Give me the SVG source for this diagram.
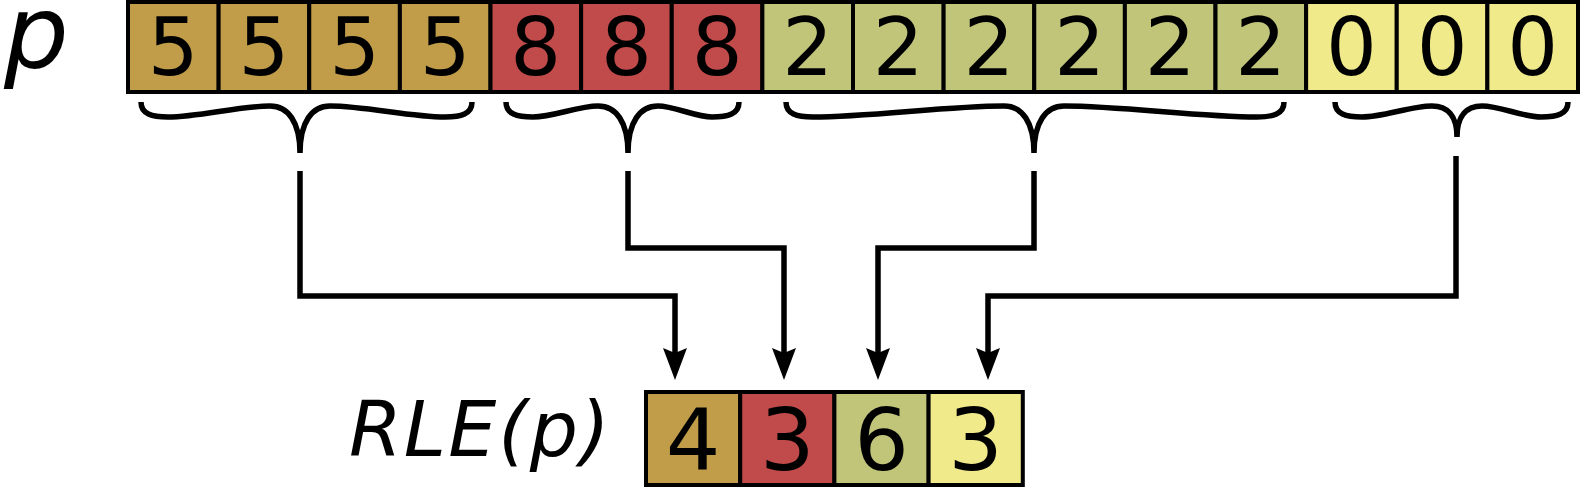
<svg xmlns="http://www.w3.org/2000/svg" width="1581" height="489" viewBox="0 0 1581 489">
<style>
.c{stroke:#000;stroke-width:4}
.b{fill:#c19d4a}.r{fill:#c14a4a}.g{fill:#c1c579}.y{fill:#f0ea8b}
.d{font-family:"DejaVu Sans",sans-serif;font-size:80px;text-anchor:middle;fill:#000}
.d2{font-family:"DejaVu Sans",sans-serif;font-size:86px;text-anchor:middle;fill:#000}
.lbl{font-family:"DejaVu Sans",sans-serif;font-style:italic;fill:#000}
.br{fill:none;stroke:#000;stroke-width:5.5}
.cn{fill:none;stroke:#000;stroke-width:5.5}
</style>
<defs>
<marker id="ah" markerUnits="userSpaceOnUse" viewBox="-5 -12 32 24" markerWidth="32" markerHeight="24" refX="0" refY="0" orient="auto" overflow="visible">
<path d="M0,0 L-5,-12 L27,0 L-5,12 Z" fill="#000"/>
</marker>
</defs>
<text id="label-p" class="lbl" x="4" y="68" font-size="102">p</text>
<g id="p-row">
<g id="p0"><rect class="c b" x="128" y="2" width="90.625" height="90"/><text class="d" x="173.3" y="75">5</text></g>
<g id="p1"><rect class="c b" x="218.625" y="2" width="90.625" height="90"/><text class="d" x="264" y="75">5</text></g>
<g id="p2"><rect class="c b" x="309.25" y="2" width="90.625" height="90"/><text class="d" x="354.6" y="75">5</text></g>
<g id="p3"><rect class="c b" x="399.875" y="2" width="90.625" height="90"/><text class="d" x="445.2" y="75">5</text></g>
<g id="p4"><rect class="c r" x="490.5" y="2" width="90.625" height="90"/><text class="d" x="535.8" y="75">8</text></g>
<g id="p5"><rect class="c r" x="581.125" y="2" width="90.625" height="90"/><text class="d" x="626.4" y="75">8</text></g>
<g id="p6"><rect class="c r" x="671.75" y="2" width="90.625" height="90"/><text class="d" x="717.1" y="75">8</text></g>
<g id="p7"><rect class="c g" x="762.375" y="2" width="90.625" height="90"/><text class="d" x="807.7" y="75">2</text></g>
<g id="p8"><rect class="c g" x="853" y="2" width="90.625" height="90"/><text class="d" x="898.3" y="75">2</text></g>
<g id="p9"><rect class="c g" x="943.625" y="2" width="90.625" height="90"/><text class="d" x="988.9" y="75">2</text></g>
<g id="p10"><rect class="c g" x="1034.25" y="2" width="90.625" height="90"/><text class="d" x="1079.6" y="75">2</text></g>
<g id="p11"><rect class="c g" x="1124.875" y="2" width="90.625" height="90"/><text class="d" x="1170.2" y="75">2</text></g>
<g id="p12"><rect class="c g" x="1215.5" y="2" width="90.625" height="90"/><text class="d" x="1260.8" y="75">2</text></g>
<g id="p13"><rect class="c y" x="1306.125" y="2" width="90.625" height="90"/><text class="d" x="1351.4" y="75">0</text></g>
<g id="p14"><rect class="c y" x="1396.75" y="2" width="90.625" height="90"/><text class="d" x="1442.1" y="75">0</text></g>
<g id="p15"><rect class="c y" x="1487.375" y="2" width="90.625" height="90"/><text class="d" x="1532.7" y="75">0</text></g>
</g>
<g id="braces">
<path id="brace1" class="br" d="M141,102 C141,114 152,117 168,117 C199,117 239,106 270,106 C288,106 300,122 300,153 M472,102 C472,114 461,117 445,117 C410,117 365,106 330,106 C312,106 300,122 300,153"/>
<path id="brace2" class="br" d="M506,102 C506,114 517,117 533,117 C553,117 578,106 598,106 C616,106 628,122 628,153 M739,102 C739,114 728,117 712,117 C696,117 674,106 658,106 C640,106 628,122 628,153"/>
<path id="brace3" class="br" d="M786,102 C786,114 797,117 813,117 C870,117 947,106 1004,106 C1022,106 1034,122 1034,153 M1284,102 C1284,114 1273,117 1257,117 C1199,117 1122,106 1064,106 C1046,106 1034,122 1034,153"/>
<path id="brace4" class="br" d="M1335,102 C1335,114 1346,117 1362,117 C1383,117 1411,106 1432,106 C1447,106 1457,115 1457,137 M1568,102 C1568,114 1557,117 1541,117 C1523,117 1500,106 1482,106 C1467,106 1457,115 1457,137"/>
</g>
<g id="connectors">
<path class="cn" d="M300,171 V296 H675 V353" marker-end="url(#ah)"/>
<path class="cn" d="M628,171 V248 H784 V353" marker-end="url(#ah)"/>
<path class="cn" d="M1034,171 V248 H878 V353" marker-end="url(#ah)"/>
<path class="cn" d="M1456,156 V296 H988 V353" marker-end="url(#ah)"/>
</g>
<text id="label-rle" class="lbl" x="349" y="456" font-size="76" letter-spacing="2">RLE(p)</text>
<g id="rle-row">
<g id="r0"><rect class="c b" x="646" y="392" width="94.2" height="93"/><text class="d2" x="693.1" y="470">4</text></g>
<g id="r1"><rect class="c r" x="740.2" y="392" width="94.2" height="93"/><text class="d2" x="787.3" y="470">3</text></g>
<g id="r2"><rect class="c g" x="834.4" y="392" width="94.2" height="93"/><text class="d2" x="881.5" y="470">6</text></g>
<g id="r3"><rect class="c y" x="928.6" y="392" width="94.2" height="93"/><text class="d2" x="975.7" y="470">3</text></g>
</g>
</svg>
